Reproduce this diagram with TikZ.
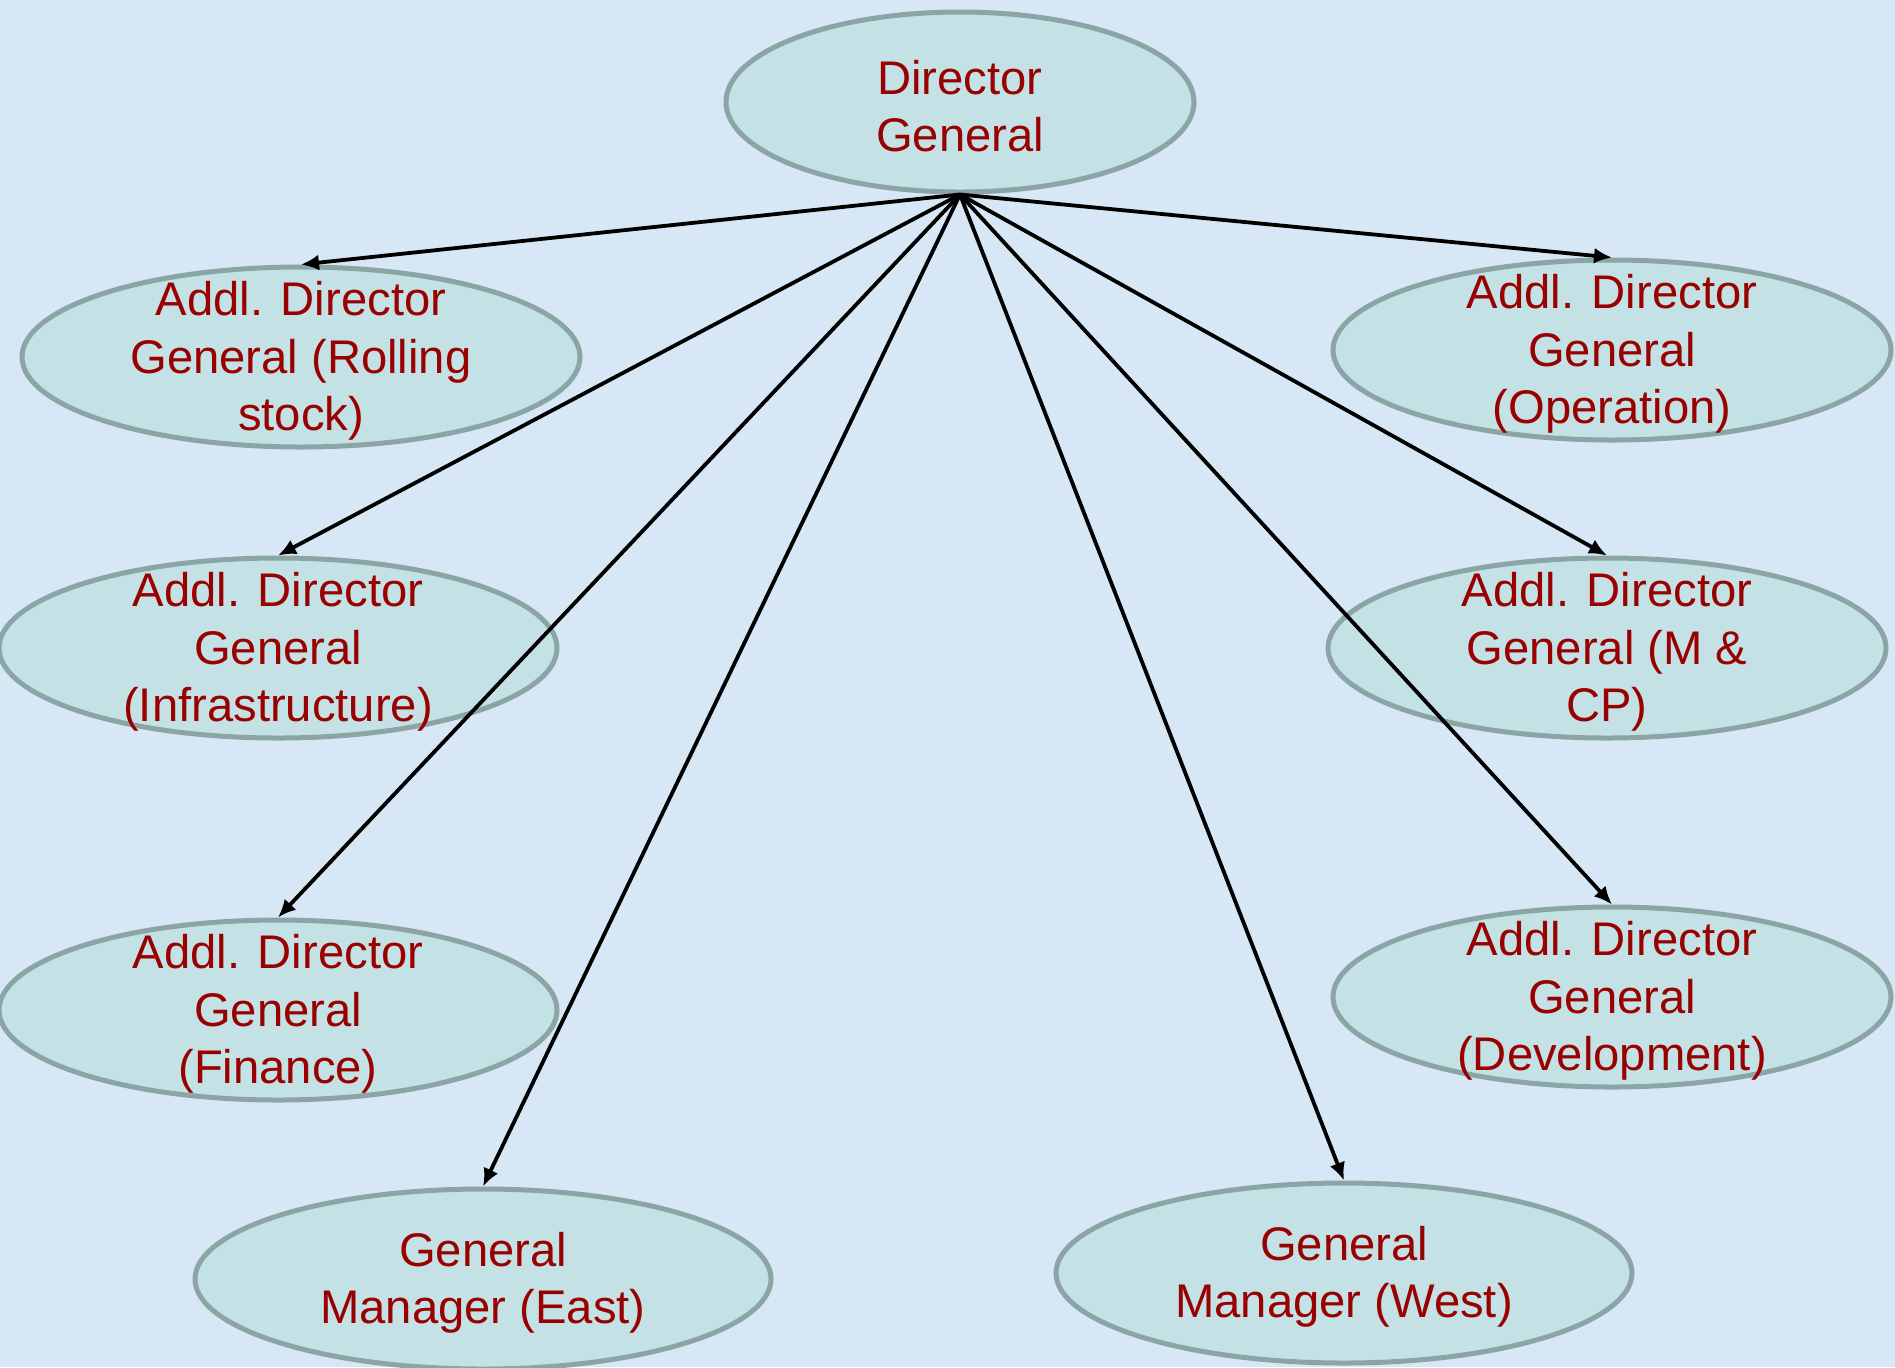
\documentclass[tikz,border=0pt]{standalone}
\usepackage{fontspec}
\setmainfont{Liberation Sans}
\usetikzlibrary{shapes.geometric,arrows.meta}
\definecolor{bgblue}{RGB}{216,231,245}
\definecolor{ovalfill}{RGB}{196,226,229}
\definecolor{ovalline}{RGB}{139,165,165}
\definecolor{txtred}{RGB}{153,0,0}
\begin{document}
\begin{tikzpicture}[x=0.5pt,y=-0.5pt,
  oval/.style={ellipse, draw=ovalline, line width=2.5pt, fill=ovalfill, inner sep=0pt},
  lbl/.style={text=txtred, font=\fontsize{23.6pt}{28.7pt}\selectfont, align=center, inner sep=0pt, yshift=-2pt},
  link/.style={line width=1.9pt, -{Latex[length=9pt,width=8pt]}}]
\path[use as bounding box, fill=bgblue] (0,0) rectangle (1895,1367);
% ovals
\node[oval, minimum width=234pt, minimum height=90pt] (dg) at (960,102) {};
\node[oval, minimum width=279pt, minimum height=90pt] (rs) at (301,357) {};
\node[oval, minimum width=279pt, minimum height=90pt] (op) at (1612,350) {};
\node[oval, minimum width=279pt, minimum height=90pt] (inf) at (278,648) {};
\node[oval, minimum width=279pt, minimum height=90pt] (mcp) at (1607,648) {};
\node[oval, minimum width=279pt, minimum height=90pt] (fin) at (278,1010) {};
\node[oval, minimum width=279pt, minimum height=90pt] (dev) at (1612,997) {};
\node[oval, minimum width=288pt, minimum height=90pt] (gme) at (483,1279) {};
\node[oval, minimum width=288pt, minimum height=90pt] (gmw) at (1344,1273) {};
% labels
\node[lbl] (dg-t) at (dg) {Director\\General};
\node[lbl] (rs-t) at (rs) {Addl. Director\\General (Rolling\\stock)};
\node[lbl] (op-t) at (op) {Addl. Director\\General\\(Operation)};
\node[lbl] (inf-t) at (inf) {Addl. Director\\General\\(Infrastructure)};
\node[lbl] (mcp-t) at (mcp) {Addl. Director\\General (M \&\\CP)};
\node[lbl] (fin-t) at (fin) {Addl. Director\\General\\(Finance)};
\node[lbl] (dev-t) at (dev) {Addl. Director\\General\\(Development)};
\node[lbl] (gme-t) at (gme) {General\\Manager (East)};
\node[lbl] (gmw-t) at (gmw) {General\\Manager (West)};
% connectors
\draw[link] (dg.south) -- (rs.north);
\draw[link] (dg.south) -- (op.north);
\draw[link] (dg.south) -- (inf.north);
\draw[link] (dg.south) -- (mcp.north);
\draw[link] (dg.south) -- (fin.north);
\draw[link] (dg.south) -- (dev.north);
\draw[link] (dg.south) -- (gme.north);
\draw[link] (dg.south) -- (gmw.north);
\end{tikzpicture}
\end{document}
